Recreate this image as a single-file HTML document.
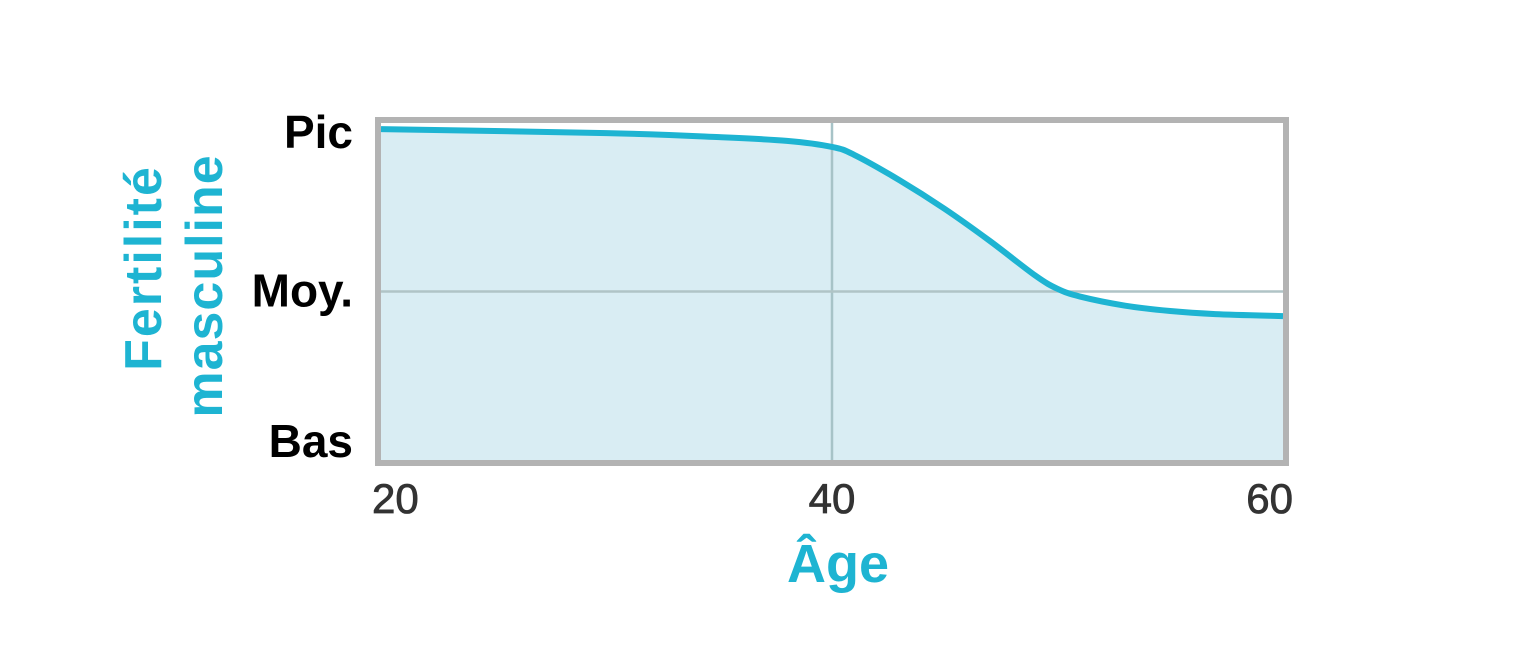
<!DOCTYPE html>
<html><head><meta charset="utf-8"><style>
html,body{margin:0;padding:0;background:#fff;width:1535px;height:650px;overflow:hidden}
text{font-family:"Liberation Sans",sans-serif}
</style></head><body>
<svg id="chart" width="1535" height="650" viewBox="0 0 1535 650" xmlns="http://www.w3.org/2000/svg"></svg>
<script>
const ages = [20,30,35,38,40,41,43,45,47,49,50,51,53,55,57,60];
const fertility = [0.982,0.970,0.958,0.947,0.929,0.905,0.83,0.745,0.65,0.548,0.508,0.485,0.458,0.442,0.433,0.427];
const xTicks = [20,40,60];
const yTickValues = [1,0.5,0];
const yTickLabels = ["Pic","Moy.","Bas"];

const NS="http://www.w3.org/2000/svg";
const svg=document.getElementById('chart');
const X0=381,X1=1283,Y0=460,Y1=123;
const xs=a=>X0+(a-20)/40*(X1-X0);
const ys=v=>Y0-v*(Y0-Y1);
function mk(tag,attrs,parent){const e=document.createElementNS(NS,tag);for(const k in attrs)e.setAttribute(k,attrs[k]);(parent||svg).appendChild(e);return e;}

const pts=ages.map((a,i)=>[xs(a),ys(fertility[i])]);
function smooth(p){
  let d='M'+p[0][0]+','+p[0][1];
  for(let i=0;i<p.length-1;i++){
    const p0=p[i-1]||p[i],p1=p[i],p2=p[i+1],p3=p[i+2]||p2;
    const c1=[p1[0]+(p2[0]-p0[0])/6,p1[1]+(p2[1]-p0[1])/6];
    const c2=[p2[0]-(p3[0]-p1[0])/6,p2[1]-(p3[1]-p1[1])/6];
    d+=' C'+c1.join(',')+' '+c2.join(',')+' '+p2.join(',');
  }
  return d;
}
const curve=smooth(pts);
const area=mk('path',{d:curve+' L'+xs(60)+','+Y0+' L'+xs(20)+','+Y0+' Z',fill:'#d9edf3'});



const gv=mk('line',{x1:xs(40),x2:xs(40),y1:Y1,y2:Y0,stroke:'#a7c3c7','stroke-width':2.5});


const gh=mk('line',{x1:X0,x2:X1,y1:ys(0.5),y2:ys(0.5),stroke:'#b0c4c6','stroke-width':2.5});



const line=mk('path',{d:curve,fill:'none',stroke:'#1eb4d2','stroke-width':6,'stroke-linejoin':'round'});



const frame=mk('rect',{x:378,y:120,width:908,height:343,fill:'none',stroke:'#b3b3b3','stroke-width':6});



xTicks.forEach((t,i)=>{
  const anchor=i===0?'start':(i===xTicks.length-1?'end':'middle');
  const x=i===0?372:(i===xTicks.length-1?1293:xs(t));
  const el=mk('text',{x:x,y:513,'text-anchor':anchor,'font-size':42,fill:'#333','stroke':'#333','stroke-width':0.8});
  el.textContent=t;
  
  
});
yTickValues.forEach((v,i)=>{
  const yy=i===0?ys(v)+25:(i===2?ys(v)-3:ys(v)+15);
  const el=mk('text',{x:353,y:yy,'text-anchor':'end','font-size':46,'font-weight':'bold',fill:'#000'});
  el.textContent=yTickLabels[i];
  
  
});
const xt=mk('text',{x:838,y:582,'text-anchor':'middle','font-size':54,'font-weight':'bold',fill:'#1eb4d2'});
xt.textContent='Âge';


const yt1=mk('text',{x:0,y:0,'text-anchor':'middle','font-size':52,'font-weight':'bold',fill:'#1eb4d2','letter-spacing':2,transform:'translate(161,268) rotate(-90)'});
yt1.textContent='Fertilité';


const yt2=mk('text',{x:0,y:0,'text-anchor':'middle','font-size':52,'font-weight':'bold',fill:'#1eb4d2','letter-spacing':1,transform:'translate(222,286) rotate(-90)'});
yt2.textContent='masculine';


</script>
</body></html>
